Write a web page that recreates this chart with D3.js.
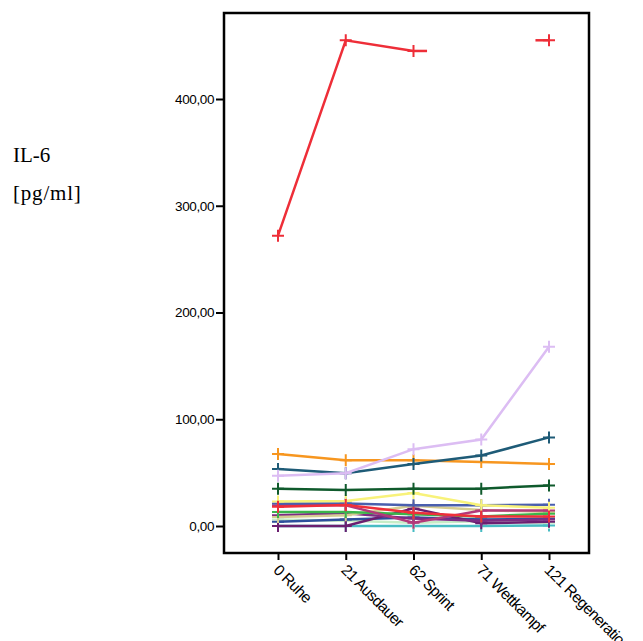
<!DOCTYPE html>
<html lang="de">
<head>
<meta charset="UTF-8">
<title>IL-6</title>
<script src="https://d3js.org/d3.v7.min.js"></script>
<style>
    body { margin: 0; background: #fff; }
    svg text { fill: #000; }
    .tick text { font-family: "Liberation Sans", Arial, sans-serif; font-size: 13.5px; letter-spacing: -0.4px; }
    .xaxis .tick text { font-size: 15.5px; letter-spacing: -0.6px; }
    .tick line { stroke: #000; stroke-width: 2; }
    .ylab { font-family: "Liberation Serif", "Times New Roman", serif; font-size: 21px; }
</style>
</head>
<body>
<svg id="chart" width="643" height="641"></svg>
<script>
// Messzeitpunkte
const categories = ["0 Ruhe", "21 Ausdauer", "62 Sprint", "71 Wettkampf", "121 Regeneration"];
const yTicks = [0, 100, 200, 300, 400];

// one array per proband (null = fehlender Wert)
const s01 = [272, 455, 445, null, 455];
const s02 = [47, 49.5, 72, 81, 168];
const s03 = [53.5, 49.5, 58, 66, 83];
const s04 = [67.5, 61.5, 61.5, 60, 58];
const s05 = [35, 33.8, 35, 35, 38];
const s06 = [23, 23.5, 31, 19.5, 17];
const s07 = [21, 21, 19.5, 19.5, 20];
const s08 = [19.5, 19.5, 3, 14.5, 14.5];
const s09 = [18, 19.7, 12.5, 9, 9];
const s10 = [13, 13, 11, 9, 11.5];
const s11 = [10, 12, 7, 5, 6];
const s12 = [0, 0, 16.5, 2.5, 4];
const s13 = [8.5, 10, 19, 15, 13];
const s14 = [4, 6, 8, 6, 7];
const s15 = [6, 5, 3, 4.5, 3];
const s16 = [0, 0, 0, 0, 0.5];

const series = [
    { values: s16, color: "#47bcc3" },
    { values: s15, color: "#c6ecc6" },
    { values: s14, color: "#2d4f9c" },
    { values: s12, color: "#6c1f70" },
    { values: s11, color: "#7d2c84" },
    { values: s13, color: "#d5cc92" },
    { values: s10, color: "#3bb54b" },
    { values: s08, color: "#b3397a" },
    { values: s07, color: "#4a5fae" },
    { values: s06, color: "#f8f27a" },
    { values: s09, color: "#ef2f3a" },
    { values: s05, color: "#0f5a2c" },
    { values: s04, color: "#f7961f" },
    { values: s03, color: "#1e5b77" },
    { values: s02, color: "#dcbdf3" },
    { values: s01, color: "#ee2e38" }
];

const svg = d3.select("#chart");
const frame = { left: 224, top: 13, right: 589, bottom: 553 };

const x = d3.scalePoint().domain(categories).range([278, 549]);
const y = d3.scaleLinear().domain([0, 400]).range([526, 99]);

// y label
svg.append("text").attr("class", "ylab").attr("x", 13).attr("y", 162).text("IL-6");
svg.append("text").attr("class", "ylab").attr("x", 13).attr("y", 200)
    .style("letter-spacing", "0.8px").text("[pg/ml]");

// axes
const yAxis = svg.append("g")
    .attr("transform", `translate(${frame.left},0)`)
    .call(d3.axisLeft(y).tickValues(yTicks).tickSize(8).tickPadding(2)
        .tickFormat(d => d3.format(".2f")(d).replace(".", ",")));
yAxis.select(".domain").remove();

const xAxis = svg.append("g")
    .attr("class", "xaxis")
    .attr("transform", `translate(0,${frame.bottom})`)
    .call(d3.axisBottom(x).tickSize(7).tickPadding(0));
xAxis.select(".domain").remove();
xAxis.selectAll(".tick text")
    .attr("text-anchor", "start")
    .attr("dy", "0")
    .attr("transform", "translate(-1,13) rotate(45)");

// lines
const line = d3.line()
    .defined(d => d.v !== null)
    .x(d => x(d.c))
    .y(d => y(d.v));

const step = x.step();
const stubFrac = 0.2;

series.forEach(s => {
    const pts = s.values.map((v, i) => ({ c: categories[i], v: v }));
    const g = svg.append("g");
    g.append("path")
        .attr("d", line(pts))
        .attr("fill", "none")
        .attr("stroke", s.color)
        .attr("stroke-width", 2.5);

    // short stubs pointing toward a missing value
    pts.forEach((p, i) => {
        if (p.v === null) return;
        [-1, 1].forEach(dir => {
            const n = pts[i + dir];
            if (n && n.v === null) {
                g.append("line")
                    .attr("x1", x(p.c)).attr("y1", y(p.v))
                    .attr("x2", x(p.c) + dir * step * stubFrac).attr("y2", y(p.v))
                    .attr("stroke", s.color).attr("stroke-width", 2.5);
            }
        });
    });

    // plus markers
    g.selectAll("path.mk")
        .data(pts.filter(p => p.v !== null))
        .join("path")
        .attr("class", "mk")
        .attr("d", d => {
            const cx = x(d.c), cy = y(d.v), r = 6;
            return `M${cx - r},${cy}H${cx + r}M${cx},${cy - r}V${cy + r}`;
        })
        .attr("stroke", s.color)
        .attr("stroke-width", 2);
});

// frame
svg.append("rect")
    .attr("x", frame.left).attr("y", frame.top)
    .attr("width", frame.right - frame.left)
    .attr("height", frame.bottom - frame.top)
    .attr("fill", "none")
    .attr("stroke", "#000")
    .attr("stroke-width", 2.5);
</script>
</body>
</html>
